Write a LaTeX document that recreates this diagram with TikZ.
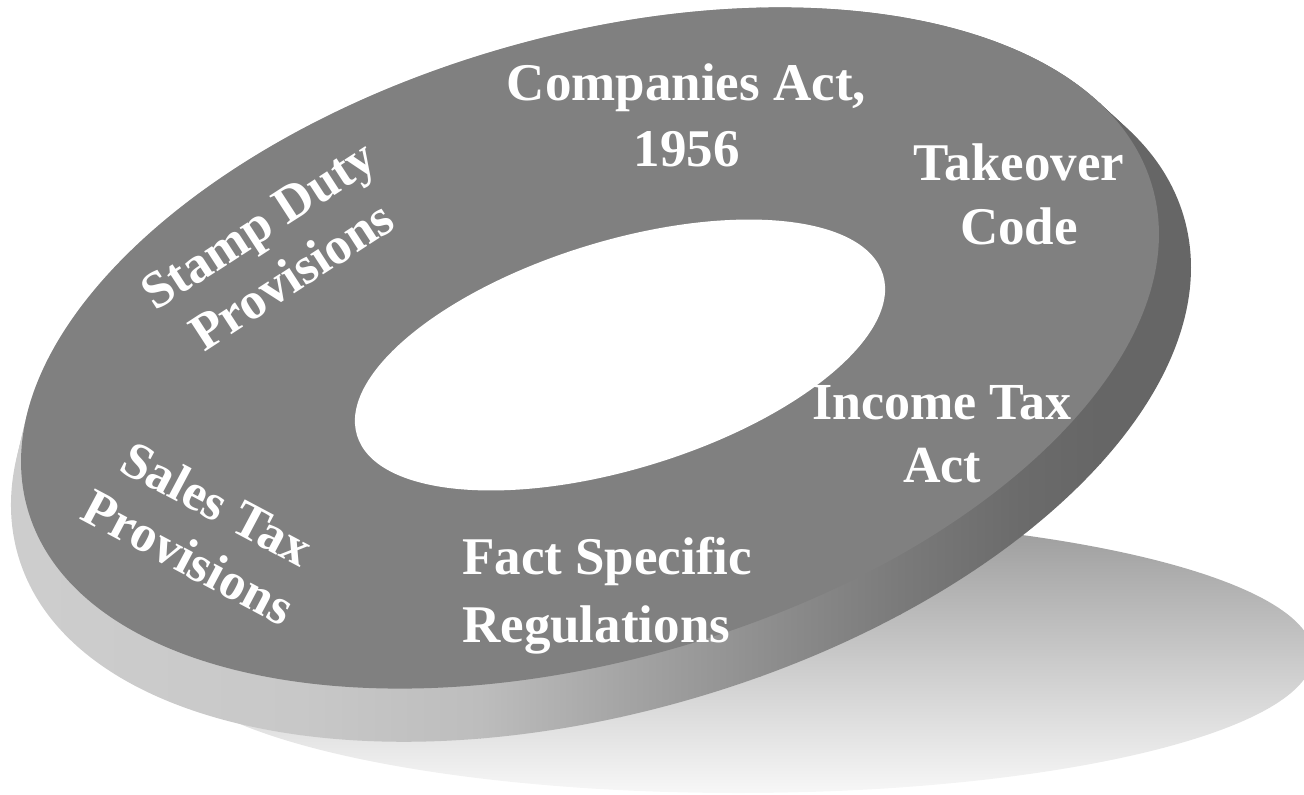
\documentclass[tikz,border=0pt]{standalone}
\usepackage{fontspec}
\setmainfont{Liberation Serif}
\definecolor{facegray}{HTML}{808080}
\definecolor{shtop}{HTML}{9A9A9A}
\definecolor{shbot}{HTML}{F7F7F7}
\definecolor{sA}{HTML}{CECECE}
\definecolor{sB}{HTML}{C8C8C8}
\definecolor{sC}{HTML}{BDBDBD}
\definecolor{sD}{HTML}{A5A5A5}
\definecolor{sE}{HTML}{8F8F8F}
\definecolor{sF}{HTML}{7A7A7A}
\definecolor{sG}{HTML}{6B6B6B}
\definecolor{sH}{HTML}{666666}
\tikzset{
  lbl/.style 2 args={text=white, font=\bfseries\fontsize{#1}{#2}\selectfont, align=center, inner sep=0pt},
  ringtilt/.style={rotate around={16:(590,348)}}
}
\begin{document}
\begin{tikzpicture}[x=1pt,y=-1pt]
\useasboundingbox (0,0) rectangle (1304,795);
\clip (0,0) rectangle (1304,795);
% shadow on the ground
\shade[top color=shtop, bottom color=shbot] (738,655) ellipse [x radius=575, y radius=138];
% side (thickness) of the disc
\foreach \t in {0,0.2,0.4,0.6,0.8,1}{
  \begin{scope}[shift={(-10.85*\t,22.9*\t)}, xscale=1+0.037*\t, yscale=1+0.044*\t]
    \clip[ringtilt] (590,348) ellipse [x radius=585, y radius=312];
    \pgftransformreset
    \shade[left color=sA, right color=sB] (-20,-10) rectangle (301,810);
    \shade[left color=sB, right color=sC] (300,-10) rectangle (481,810);
    \shade[left color=sC, right color=sD] (480,-10) rectangle (621,810);
    \shade[left color=sD, right color=sE] (620,-10) rectangle (761,810);
    \shade[left color=sE, right color=sF] (760,-10) rectangle (901,810);
    \shade[left color=sF, right color=sG] (900,-10) rectangle (1021,810);
    \shade[left color=sG, right color=sH] (1020,-10) rectangle (1101,810);
    \fill[sH] (1100,-10) rectangle (1330,810);
  \end{scope}
}
% top face
\fill[facegray, ringtilt] (590,348) ellipse [x radius=585, y radius=312];
% hole
\fill[white, rotate around={17:(620,355)}] (620,355) ellipse [x radius=275, y radius=114];
% labels
\node[lbl={53}{66}] (companies) at (686.5,115) {Companies Act,\\1956};
\node[lbl={53}{64}] (takeover) at (1019,194) {Takeover\\Code};
\node[lbl={52}{63}] (income) at (942,434) {Income Tax\\Act};
\node[lbl={53}{68}, align=left, anchor=west] (fact) at (462,596) {Fact Specific\\Regulations};
\node[lbl={52}{61}, rotate=33] (stamp) at (275,250) {Stamp Duty\\Provisions};
\node[lbl={52}{61}, rotate=-28] (sales) at (203,530) {Sales Tax\\Provisions};
\end{tikzpicture}
\end{document}
